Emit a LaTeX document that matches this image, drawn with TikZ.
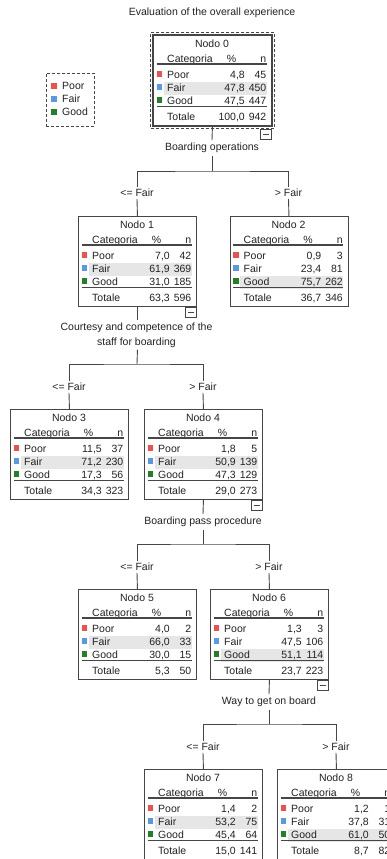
\documentclass[tikz,border=0pt]{standalone}
\usepackage{fontspec}
\setmainfont{Liberation Sans}
\usetikzlibrary{fit}
\definecolor{cpoor}{RGB}{238,80,80}
\definecolor{cfair}{RGB}{88,152,230}
\definecolor{cgood}{RGB}{36,128,36}
\definecolor{hlgray}{RGB}{230,230,230}
\definecolor{ink}{RGB}{35,35,35}
\definecolor{frame}{RGB}{70,70,70}

\newcommand\tnode[4]{% number, x, y, highlighted row
  \node[tbox, anchor=north west] (n#1) at (#2,-#3) {};
  \begin{scope}[shift={(n#1.north west)}]
    \fill[hlgray] (10.5,{-20.5-13*#4}) rectangle (113.5,{-33.5-13*#4});
    \node[txt] (n#1-t) at (59,-9) {Nodo #1};
    \node[txt, anchor=west] (n#1-hc) at (14,-24) {Categoria};
    \node[txt] (n#1-hp) at (78.5,-24) {\%};
    \node[txt, anchor=east] (n#1-hn) at (113.5,-24) {n};
    \draw[rule] (3.5,-29) -- (113.5,-29);
    \draw[rule] (3.5,-71.5) -- (113.5,-71.5);
    \fill[cpoor] (3.5,-36) rectangle (9,-41.5);
    \fill[cfair] (3.5,-49) rectangle (9,-54.5);
    \fill[cgood] (3.5,-62) rectangle (9,-67.5);
    \node[txt, anchor=west] (n#1-lp) at (14,-40) {Poor};
    \node[txt, anchor=west] (n#1-lf) at (14,-53) {Fair};
    \node[txt, anchor=west] (n#1-lg) at (14,-66) {Good};
    \node[txt, anchor=west] (n#1-lt) at (14,-82) {Totale};
  \end{scope}}

\newcommand\tvals[9]{%
  \begin{scope}[shift={(n#1.north west)}]
    \node[txt, anchor=east] (n#1-pp) at (92,-40) {#2};
    \node[txt, anchor=east] (n#1-pn) at (113.5,-40) {#3};
    \node[txt, anchor=east] (n#1-fp) at (92,-53) {#4};
    \node[txt, anchor=east] (n#1-fn) at (113.5,-53) {#5};
    \node[txt, anchor=east] (n#1-gp) at (92,-66) {#6};
    \node[txt, anchor=east] (n#1-gn) at (113.5,-66) {#7};
    \node[txt, anchor=east] (n#1-tp) at (92,-82) {#8};
    \node[txt, anchor=east] (n#1-tn) at (113.5,-82) {#9};
  \end{scope}}

\newcommand\collapsebox[2]{% name, anchor point
  \node[colbox, anchor=north east] (#1) at #2 {};
  \draw[minusl] ([xshift=2.5pt]#1.west) -- ([xshift=-2.5pt]#1.east);}

\begin{document}
\begin{tikzpicture}[x=1pt,y=1pt,
  every node/.style={font=\fontsize{10.5}{15}\selectfont, text=ink},
  txt/.style={inner sep=0pt, text height=7.5pt, text depth=0pt},
  tbox/.style={draw=frame, line width=0.9pt, minimum width=118pt, minimum height=90pt, inner sep=0pt, fill=white},
  lbl/.style={inner xsep=1pt, inner ysep=3pt, text height=7.5pt, text depth=2pt},
  lbltwo/.style={inner xsep=1pt, inner ysep=2pt, align=center},
  brl/.style={inner xsep=1pt, inner ysep=2pt, text height=7.5pt, text depth=0pt},
  conn/.style={draw=frame, line width=0.9pt},
  rule/.style={draw=frame, line width=1.1pt},
  dbox/.style={draw=frame, line width=0.9pt, dash pattern=on 3pt off 2pt},
  colbox/.style={draw=frame, line width=0.8pt, minimum width=11pt, minimum height=10pt, inner sep=0pt, fill=white},
  minusl/.style={draw=frame, line width=1.2pt},
]
\path[use as bounding box, fill=white] (0,0) rectangle (387,-859);
\clip (0,0) rectangle (387,-859);

% title
\node[lbl] (title) at (212,-13) {Evaluation of the overall experience};

% legend
\node[dbox, minimum width=48pt, minimum height=53pt, anchor=north west, inner sep=0pt] (leg) at (46,-73) {};
\fill[cpoor] (51,-83) rectangle (57,-89);
\fill[cfair] (51,-96) rectangle (57,-102);
\fill[cgood] (51,-109) rectangle (57,-115);
\node[txt, anchor=west] (leg-p) at (62,-86) {Poor};
\node[txt, anchor=west] (leg-f) at (62,-99) {Fair};
\node[txt, anchor=west] (leg-g) at (62,-112) {Good};

% nodes
\tnode{0}{153}{35}{2}
\tvals{0}{4,8}{45}{47,8}{450}{47,5}{447}{100,0}{942}
\draw[frame, line width=2pt] (n0.south west) rectangle (n0.north east);
\node[dbox, fit=(n0), inner sep=2.5pt] (n0sel) {};
\collapsebox{c0}{(n0sel.south -| n0.east)}

\tnode{1}{78}{216}{2}
\tvals{1}{7,0}{42}{61,9}{369}{31,0}{185}{63,3}{596}
\collapsebox{c1}{(n1.south east)}
\tnode{2}{229.5}{216}{3}
\tvals{2}{0,9}{3}{23,4}{81}{75,7}{262}{36,7}{346}

\tnode{3}{10}{409}{2}
\tvals{3}{11,5}{37}{71,2}{230}{17,3}{56}{34,3}{323}
\tnode{4}{144}{409}{2}
\tvals{4}{1,8}{5}{50,9}{139}{47,3}{129}{29,0}{273}
\collapsebox{c4}{(n4.south east)}

\tnode{5}{78}{589}{2}
\tvals{5}{4,0}{2}{66,0}{33}{30,0}{15}{5,3}{50}
\tnode{6}{210}{589}{3}
\tvals{6}{1,3}{3}{47,5}{106}{51,1}{114}{23,7}{223}
\collapsebox{c6}{(n6.south east)}

\tnode{7}{144}{769}{2}
\tvals{7}{1,4}{2}{53,2}{75}{45,4}{64}{15,0}{141}
\tnode{8}{277}{769}{3}
\tvals{8}{1,2}{1}{37,8}{31}{61,0}{50}{8,7}{82}

% split 0
\node[lbl] (s0) at (212,-148) {Boarding operations};
\coordinate (b0) at (212,-171);
\node[brl] (l1) at (137,-193) {<= Fair};
\node[brl] (l2) at (288.5,-193) {> Fair};
\draw[conn] (n0.south) -- (s0.north);
\draw[conn] (s0.south) -- (b0);
\draw[conn] (l1.north) |- (b0) -| (l2.north);
\draw[conn] (l1.south) -- (n1.north);
\draw[conn] (l2.south) -- (n2.north);

% split 1
\node[lbltwo] (s1) at (136.5,-335) {Courtesy and competence of the\\staff for boarding};
\coordinate (b1) at (137,-364);
\node[brl] (l3) at (69,-387) {<= Fair};
\node[brl] (l4) at (203,-387) {> Fair};
\draw[conn] (n1.south) -- (n1.south |- s1.north);
\draw[conn] (n1.south |- s1.south) -- (b1);
\draw[conn] (l3.north) |- (b1) -| (l4.north);
\draw[conn] (l3.south) -- (n3.north);
\draw[conn] (l4.south) -- (n4.north);

% split 4
\node[lbl] (s4) at (203,-522) {Boarding pass procedure};
\coordinate (b4) at (203,-544);
\node[brl] (l5) at (137,-567) {<= Fair};
\node[brl] (l6) at (269,-567) {> Fair};
\draw[conn] (n4.south) -- (s4.north);
\draw[conn] (s4.south) -- (b4);
\draw[conn] (l5.north) |- (b4) -| (l6.north);
\draw[conn] (l5.south) -- (n5.north);
\draw[conn] (l6.south) -- (n6.north);

% split 6
\node[lbl] (s6) at (269,-702) {Way to get on board};
\coordinate (b6) at (269,-724);
\node[brl] (l7) at (203,-747) {<= Fair};
\node[brl] (l8) at (336,-747) {> Fair};
\draw[conn] (n6.south) -- (s6.north);
\draw[conn] (s6.south) -- (b6);
\draw[conn] (l7.north) |- (b6) -| (l8.north);
\draw[conn] (l7.south) -- (n7.north);
\draw[conn] (l8.south) -- (n8.north);
\end{tikzpicture}
\end{document}
